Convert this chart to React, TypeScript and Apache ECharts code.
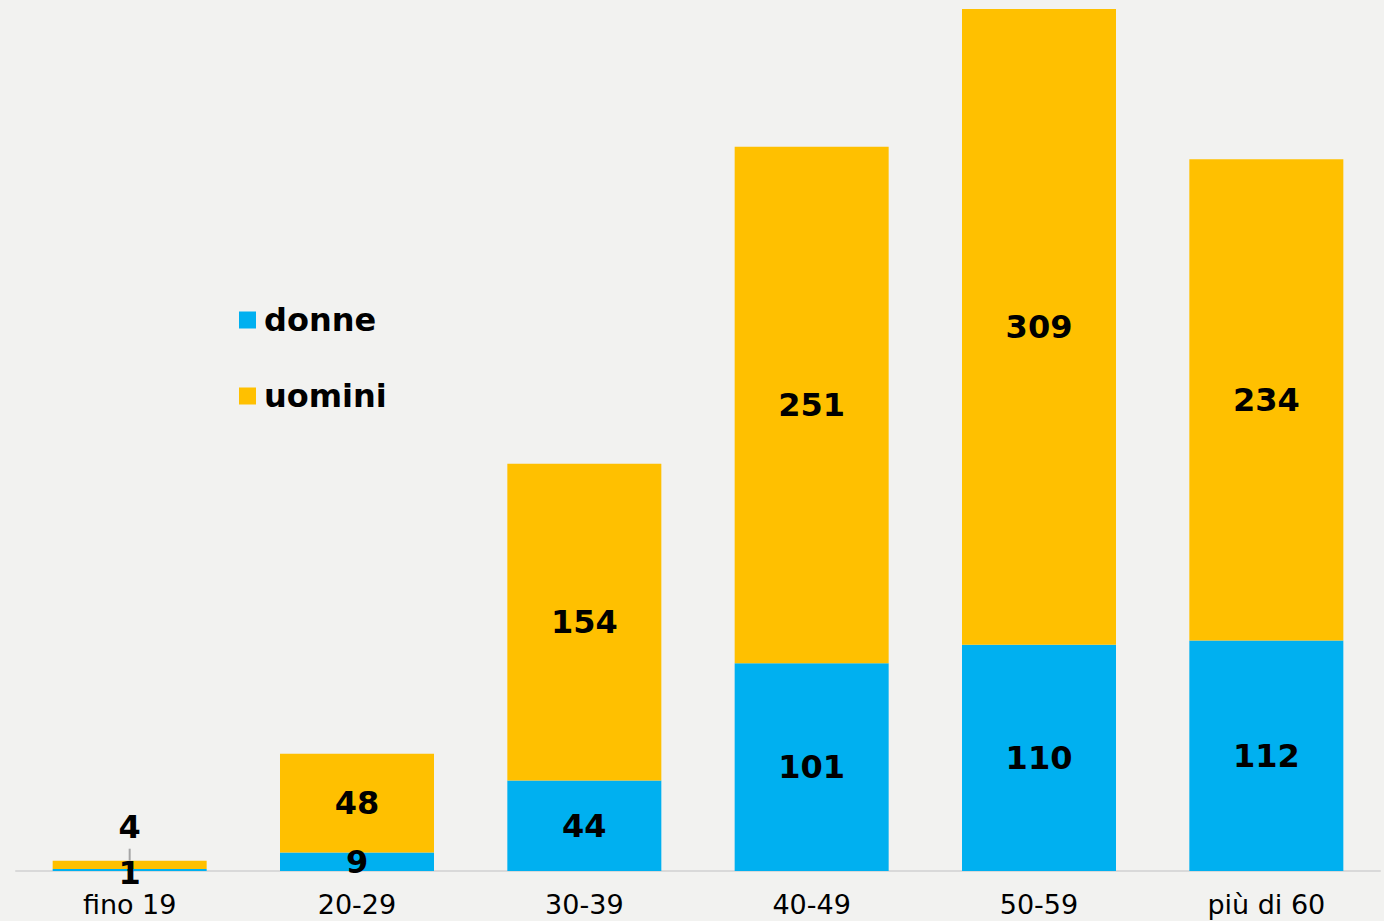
import React, { useEffect, useRef } from "react";
import * as echarts from "echarts";

const categories = ["fino 19", "20-29", "30-39", "40-49", "50-59", "più di 60"];
const donne = [1, 9, 44, 101, 110, 112];
const uomini = [4, 48, 154, 251, 309, 234];

const FONT = "DejaVu Sans, Verdana, sans-serif";

export default function App() {
  const ref = useRef<HTMLDivElement>(null);
  useEffect(() => {
    const chart = echarts.init(ref.current!, null, { renderer: "svg" });
    const labelStyle = {
      show: true,
      position: "inside" as const,
      color: "#000",
      fontFamily: FONT,
      fontWeight: "bold" as const,
      fontSize: 32,
    };
    chart.setOption({
      animation: false,
      backgroundColor: "#f2f2f0",
      grid: { left: 16, right: 4, top: 9, bottom: 50 },
      legend: {
        orient: "vertical",
        left: 239,
        top: 304,
        padding: 0,
        itemWidth: 17,
        itemHeight: 17,
        itemGap: 44,
        icon: "rect",
        textStyle: { fontFamily: FONT, fontWeight: "bold", fontSize: 32, color: "#000", padding: [0, 0, 0, 3] },
        data: ["donne", "uomini"],
      },
      xAxis: {
        type: "category",
        data: categories,
        axisLine: { lineStyle: { color: "#d9d9d9", width: 2 } },
        axisTick: { show: false },
        axisLabel: { fontFamily: FONT, fontSize: 27, color: "#000", margin: 20 },
      },
      yAxis: {
        type: "value",
        min: 0,
        max: 419,
        show: false,
        splitLine: { show: false },
      },
      series: [
        {
          name: "donne",
          type: "bar",
          stack: "tot",
          barWidth: 154,
          itemStyle: { color: "#00b0f0" },
          label: labelStyle,
          data: donne.map((v, i) =>
            i === 0 ? { value: v, label: { offset: [0, 3] } } : v
          ),
        },
        {
          name: "uomini",
          type: "bar",
          stack: "tot",
          barWidth: 154,
          itemStyle: { color: "#ffc000" },
          label: labelStyle,
          data: uomini.map((v, i) =>
            i === 0 ? { value: v, label: { offset: [0, -38] } } : v
          ),
        },
      ],
    });
    const top = chart.convertToPixel({ seriesIndex: 1 }, [0, donne[0] + uomini[0]]);
    if (top) {
      chart.setOption({
        graphic: [
          {
            type: "line",
            shape: { x1: top[0], y1: top[1] - 12, x2: top[0], y2: top[1] },
            style: { stroke: "#a6a6a6", lineWidth: 2 },
            z: 100,
          },
        ],
      });
    }
    return () => chart.dispose();
  }, []);
  return <div ref={ref} style={{ width: 1384, height: 921, position: "absolute", left: 0, top: 0 }} />;
}
